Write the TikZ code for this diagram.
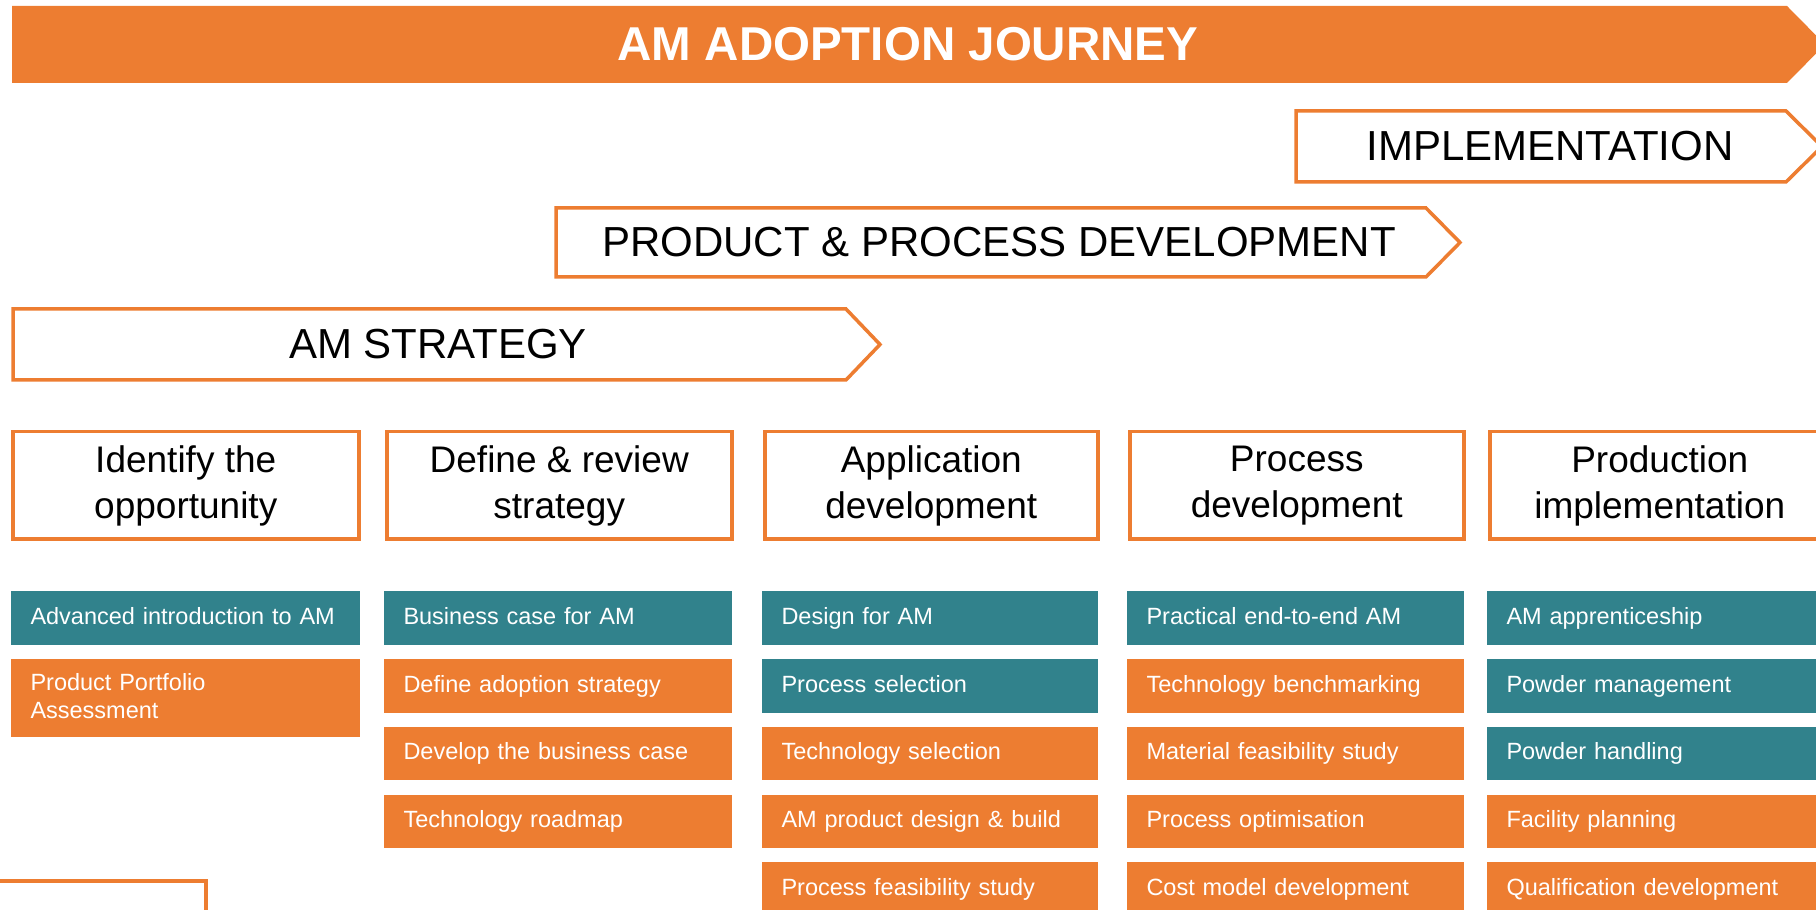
\documentclass[tikz,border=0pt]{standalone}
\usepackage{fontspec}
\setmainfont{Liberation Sans}
\usetikzlibrary{positioning}
\definecolor{AMOrange}{HTML}{ED7D31}
\definecolor{AMTeal}{HTML}{31828C}

\begin{document}
\begin{tikzpicture}[x=0.4pt, y=-0.4pt,
    phase/.style={draw=AMOrange, line width=1.4pt, fill=white, line join=miter},
    phaselabel/.style={font=\fontsize{16.8}{20}\selectfont, text=black, inner sep=0pt},
    stage/.style={draw=AMOrange, line width=1.4pt, fill=white, anchor=north west, minimum height=43pt, align=center, inner sep=0pt, font=\fontsize{14.8}{18.4}\selectfont},
    item/.style={anchor=north west, minimum height=21.4pt, inner xsep=8pt, inner ysep=0pt, text height=7.5pt, text depth=2.5pt, align=left, text=white, font=\fontsize{9.4}{11.2}\selectfont},
    tealitem/.style={item, fill=AMTeal},
    orangeitem/.style={item, fill=AMOrange},
    colA/.style={text width=123.6pt},
    colB/.style={text width=123.2pt},
    colC/.style={text width=118.4pt},
    colD/.style={text width=118.8pt},
    colE/.style={text width=118.4pt}]
    \useasboundingbox (0,0) rectangle (1816,910);
    \clip (0,0) rectangle (1816,910);

    \fill[AMOrange] (12,6) -- (1787,6) -- (1825,44.5) -- (1787,83) -- (12,83) -- cycle;
    \node[font=\fontsize{19}{23}\selectfont\bfseries, text=white, inner sep=0pt] (journey) at (908,44.5) {AM ADOPTION JOURNEY};

    \draw[phase] (1296,111) -- (1786,111) -- (1822,146.5) -- (1786,182) -- (1296,182) -- cycle;
    \node[phaselabel] (implementation) at (1550,146.5) {IMPLEMENTATION};

    \draw[phase] (556,208) -- (1426,208) -- (1460,242.5) -- (1426,277) -- (556,277) -- cycle;
    \node[phaselabel] (development) at (999,242.5) {PRODUCT \& PROCESS DEVELOPMENT};

    \draw[phase] (13,309) -- (846,309) -- (880,344.5) -- (846,380) -- (13,380) -- cycle;
    \node[phaselabel] (strategy) at (438,344.5) {AM STRATEGY};

    \node[stage, minimum width=138.4pt] (identify) at (11,430) {Identify the\\opportunity};
    \node[stage, minimum width=138pt] (define) at (385,430) {Define \& review\\strategy};
    \node[stage, minimum width=133.2pt] (appdev) at (763,430) {Application\\development};
    \node[stage, minimum width=133.6pt] (procdev) at (1128,430) {Process\\development};
    \node[stage, minimum width=136pt] (prodimpl) at (1488,430) {Production\\implementation};

    \node[tealitem, colA] (a1) at (10,591) {Advanced introduction to AM};
    \node[orangeitem, colA, text depth=13.7pt, minimum height=31.2pt, below=5.3pt of a1] (a2) {Product Portfolio\\Assessment};

    \node[tealitem, colB] (b1) at (383,591) {Business case for AM};
    \node[orangeitem, colB, below=5.3pt of b1] (b2) {Define adoption strategy};
    \node[orangeitem, colB, below=5.3pt of b2] (b3) {Develop the business case};
    \node[orangeitem, colB, below=5.3pt of b3] (b4) {Technology roadmap};

    \node[tealitem, colC] (c1) at (761,591) {Design for AM};
    \node[tealitem, colC, below=5.3pt of c1] (c2) {Process selection};
    \node[orangeitem, colC, below=5.3pt of c2] (c3) {Technology selection};
    \node[orangeitem, colC, below=5.3pt of c3] (c4) {AM product design \& build};
    \node[orangeitem, colC, below=5.3pt of c4] (c5) {Process feasibility study};

    \node[tealitem, colD] (d1) at (1126,591) {Practical end-to-end AM};
    \node[orangeitem, colD, below=5.3pt of d1] (d2) {Technology benchmarking};
    \node[orangeitem, colD, below=5.3pt of d2] (d3) {Material feasibility study};
    \node[orangeitem, colD, below=5.3pt of d3] (d4) {Process optimisation};
    \node[orangeitem, colD, below=5.3pt of d4] (d5) {Cost model development};

    \node[tealitem, colE] (e1) at (1486,591) {AM apprenticeship};
    \node[tealitem, colE, below=5.3pt of e1] (e2) {Powder management};
    \node[tealitem, colE, below=5.3pt of e2] (e3) {Powder handling};
    \node[orangeitem, colE, below=5.3pt of e3] (e4) {Facility planning};
    \node[orangeitem, colE, below=5.3pt of e4] (e5) {Qualification development};

    \draw[AMOrange, line width=1.4pt] (-20,881) rectangle (206,960);
\end{tikzpicture}
\end{document}
